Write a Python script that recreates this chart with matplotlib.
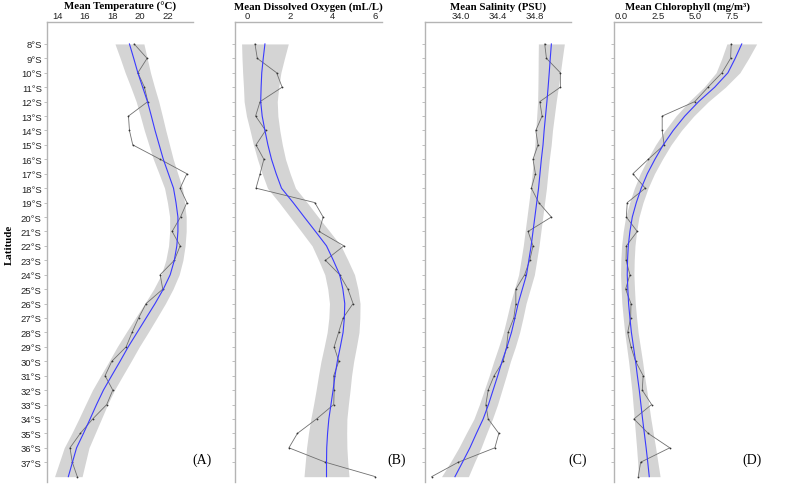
import numpy as np
import matplotlib
matplotlib.use("Agg")
import matplotlib.pyplot as plt

# latitude of each sample (°S)
lat = np.arange(8, 39)
lat_ticks = list(range(8, 38))
lat_labels = [f"{v}°S" for v in lat_ticks]

# mean temperature (°C): observed, smooth fit, band half-width
temp_obs = [19.58, 20.52, 19.85, 20.33, 20.57, 19.17, 19.24, 19.48, 21.47, 23.41, 22.92,
            23.41, 22.95, 22.34, 22.92, 22.5, 21.47, 21.66, 20.45, 19.9, 19.43, 19.0,
            17.96, 17.47, 18.03, 17.59, 16.57, 15.67, 14.92, 15.09, 15.45]
temp_fit = [19.24, 19.55, 19.85, 20.2, 20.55, 20.83, 21.1, 21.4, 21.7, 22.07, 22.44,
            22.62, 22.76, 22.76, 22.68, 22.5, 22.2, 21.7, 21.1, 20.45, 19.8, 19.15,
            18.56, 17.95, 17.35, 16.85, 16.38, 15.9, 15.4, 15.1, 14.8]
temp_se = [1.05, 0.98, 0.92, 0.86, 0.82, 0.8, 0.78, 0.75, 0.72, 0.68, 0.65, 0.62, 0.6,
           0.6, 0.6, 0.62, 0.65, 0.7, 0.75, 0.78, 0.8, 0.8, 0.8, 0.8, 0.8, 0.8, 0.82,
           0.85, 0.9, 0.95, 1.0]

# mean dissolved oxygen (mL/L)
do_obs = [0.36, 0.47, 1.38, 1.64, 0.6, 0.39, 0.86, 0.41, 0.78, 0.6, 0.41, 3.18, 3.57,
          3.38, 4.55, 3.68, 4.35, 4.74, 4.98, 4.51, 4.3, 4.09, 4.31, 4.07, 4.09, 4.07,
          3.26, 2.36, 1.96, 3.68, 6.03]
do_fit = [0.83, 0.75, 0.68, 0.65, 0.63, 0.7, 0.83, 0.97, 1.14, 1.36, 1.61, 2.16, 2.68,
          3.21, 3.73, 4.05, 4.35, 4.5, 4.59, 4.57, 4.51, 4.38, 4.24, 4.13, 4.04, 3.94,
          3.84, 3.78, 3.74, 3.73, 3.73]
do_se = [1.1, 1.0, 0.9, 0.83, 0.78, 0.74, 0.7, 0.68, 0.66, 0.66, 0.66, 0.66, 0.66, 0.67,
         0.68, 0.69, 0.7, 0.71, 0.72, 0.73, 0.75, 0.76, 0.77, 0.78, 0.8, 0.82, 0.85,
         0.9, 0.95, 1.0, 1.06]

# mean salinity (PSU)
sal_obs = [34.906, 34.925, 35.075, 35.075, 34.853, 34.878, 34.81, 34.834, 34.78, 34.806,
           34.763, 34.842, 34.978, 34.727, 34.78, 34.745, 34.69, 34.595, 34.595, 34.573,
           34.512, 34.495, 34.458, 34.361, 34.297, 34.272, 34.297, 34.412, 34.369,
           33.974, 33.688]
sal_fit = [34.978, 34.966, 34.955, 34.943, 34.93, 34.915, 34.9, 34.888, 34.87, 34.855,
           34.84, 34.82, 34.8, 34.78, 34.76, 34.735, 34.71, 34.665, 34.62, 34.585,
           34.548, 34.5, 34.447, 34.4, 34.35, 34.3, 34.243, 34.17, 34.1, 34.02, 33.939]
sal_se = [0.14, 0.13, 0.12, 0.11, 0.1, 0.095, 0.09, 0.088, 0.086, 0.085, 0.085, 0.085,
          0.085, 0.085, 0.085, 0.085, 0.085, 0.085, 0.085, 0.087, 0.088, 0.09, 0.09,
          0.092, 0.095, 0.098, 0.1, 0.11, 0.12, 0.13, 0.145]

# mean chlorophyll (mg/m3)
chl_obs = [7.43, 7.39, 6.81, 5.87, 4.98, 2.79, 2.79, 2.92, 1.85, 0.82, 1.65, 0.44, 0.38,
           1.11, 0.38, 0.36, 0.62, 0.33, 0.69, 0.67, 0.47, 0.69, 1.0, 1.51, 1.45, 2.08,
           0.89, 1.85, 3.3, 1.34, 1.18]
chl_fit = [8.14, 7.7, 7.21, 6.32, 5.24, 4.31, 3.53, 2.86, 2.3, 1.79, 1.38, 1.05, 0.78,
           0.62, 0.51, 0.46, 0.44, 0.48, 0.53, 0.62, 0.72, 0.86, 1.0, 1.12, 1.25, 1.36,
           1.47, 1.59, 1.71, 1.82, 1.92]
chl_se = [1.0, 0.9, 0.8, 0.72, 0.65, 0.6, 0.55, 0.52, 0.5, 0.48, 0.46, 0.45, 0.45, 0.45,
          0.45, 0.45, 0.45, 0.45, 0.45, 0.45, 0.45, 0.46, 0.47, 0.48, 0.5, 0.53, 0.56,
          0.6, 0.64, 0.68, 0.73]

panels = [
    ("Mean Temperature (°C)", temp_obs, temp_fit, temp_se,
     (13.23, 23.87), [14, 16, 18, 20, 22], ["14", "16", "18", "20", "22"], "(A)", 1.06),
    ("Mean Dissolved Oxygen (mL/L)", do_obs, do_fit, do_se,
     (-0.58, 6.32), [0, 2, 4, 6], ["0", "2", "4", "6"], "(B)", 1.1),
    ("Mean Salinity (PSU)", sal_obs, sal_fit, sal_se,
     (33.616, 35.195), [34.0, 34.4, 34.8], ["34.0", "34.4", "34.8"], "(C)", 1.045),
    ("Mean Chlorophyll (mg/m³)", chl_obs, chl_fit, chl_se,
     (-0.45, 9.4), [0, 2.5, 5.0, 7.5], ["0.0", "2.5", "5.0", "7.5"], "(D)", 0.94),
]
lefts = [46.7, 235, 425, 614]

W, H = 800, 485
fig = plt.figure(figsize=(W / 100, H / 100), dpi=100)
serif = "Liberation Serif"
sans = "Liberation Sans"
spine_col = "#b4b4b4"

for (title, obs, fit, se, xlim, xt, xtl, tag, tagx), left in zip(panels, lefts):
    ax = fig.add_axes([left / W, 1 - 483 / H, 146.5 / W, (483 - 23.3) / H])
    fit = np.array(fit)
    se = np.array(se)
    ax.fill_betweenx(lat, fit - se, fit + se, color="#d4d4d4", lw=0, zorder=1)
    ax.plot(obs, lat, color="#707070", lw=0.6, zorder=2)
    ax.plot(obs, lat, "o", color="#333333", ms=1.3, mew=0, zorder=3)
    ax.plot(fit, lat, color="#3a3aff", lw=0.8, zorder=4)

    ax.set_xlim(*xlim)
    ax.set_ylim(38.37, 6.5)
    ax.xaxis.tick_top()
    ax.set_xticks(xt)
    ax.set_xticklabels(xtl, family=sans, fontsize=6.8, color="#222222")
    ax.tick_params(axis="x", length=0, pad=1.5)
    ax.set_yticks(lat_ticks)
    if left == lefts[0]:
        ax.set_yticklabels(lat_labels, family=sans, fontsize=6.8, color="#222222")
    else:
        ax.set_yticklabels([])
    ax.tick_params(axis="y", length=2, width=0.6, color=spine_col, pad=1.5)
    for s in ["right", "bottom"]:
        ax.spines[s].set_visible(False)
    for s in ["top", "left"]:
        ax.spines[s].set_color(spine_col)
        ax.spines[s].set_linewidth(1.0)
    ax.set_title(title, family=serif, fontweight="bold", fontsize=7.8, pad=10)
    ax.text(tagx, 0.05, tag, transform=ax.transAxes, family=serif, fontsize=10,
            ha="center", va="center", clip_on=False)

fig.text(0.011, 0.495, "Latitude", rotation=90, family=serif, fontweight="bold",
         fontsize=7.8, ha="center", va="center")

fig.savefig("out.png", dpi=100)
